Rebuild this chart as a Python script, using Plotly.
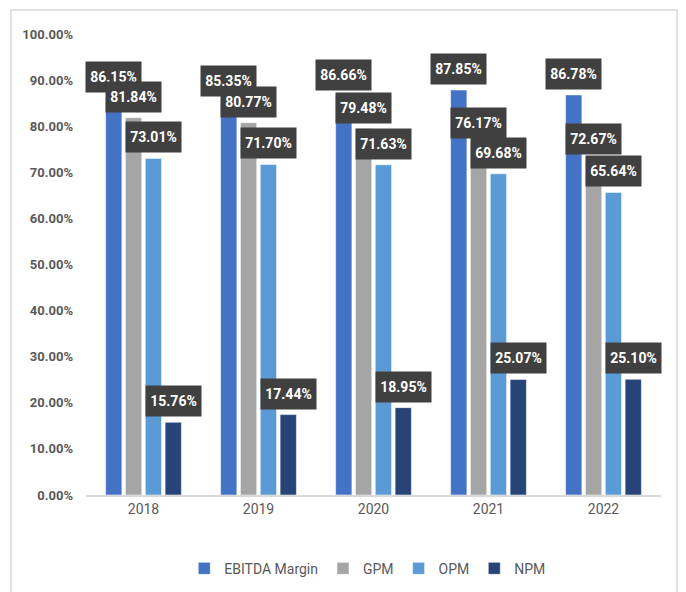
import plotly.graph_objects as go

# Profitability ratios by year
years = ["2018", "2019", "2020", "2021", "2022"]
series_names = ["EBITDA Margin", "GPM", "OPM", "NPM"]
ebitda_margin = [86.15, 85.35, 86.66, 87.85, 86.78]
gpm = [81.84, 80.77, 79.48, 76.17, 72.67]
opm = [73.01, 71.70, 71.63, 69.68, 65.64]
npm = [15.76, 17.44, 18.95, 25.07, 25.10]
y_ticks = [0, 10, 20, 30, 40, 50, 60, 70, 80, 90, 100]

colors = ["#4472C4", "#A5A5A5", "#5B9BD5", "#264478"]
all_values = [ebitda_margin, gpm, opm, npm]

FONT = "Roboto, sans-serif"

fig = go.Figure()
for name, vals, col in zip(series_names, all_values, colors):
    fig.add_trace(go.Bar(
        name=name,
        x=years,
        y=[v / 100 for v in vals],
        marker=dict(color=col, line=dict(color="rgba(255,255,255,0.5)", width=1)),
        hoverinfo="skip",
    ))

# Dark value boxes above every bar
n_series = len(series_names)
bargap = 0.31
slot = (1 - bargap) / n_series
annotations = []
for si, vals in enumerate(all_values):
    offset = -0.5 + bargap / 2 + slot * (si + 0.5)
    for ci, v in enumerate(vals):
        annotations.append(dict(
            x=ci + offset, y=v / 100, xref="x", yref="y",
            text=f"{v:.2f}%", showarrow=False,
            yshift=21, yanchor="middle", xanchor="center",
            width=53, height=28,
            bgcolor="#404040",
            font=dict(family=FONT, size=14, color="white", weight="bold"),
        ))

fig.update_layout(
    width=686, height=592,
    margin=dict(l=86, r=25, t=34, b=97, autoexpand=False),
    paper_bgcolor="white", plot_bgcolor="white",
    barmode="group", bargap=bargap, bargroupgap=0.18,
    annotations=annotations,
    showlegend=True,
    legend=dict(
        orientation="h", x=0.49, xanchor="center", y=-0.16, yanchor="middle",
        font=dict(family=FONT, size=14, color="#595959"),
        itemwidth=30, traceorder="normal",
    ),
    xaxis=dict(
        type="category", range=[-0.5, 4.5],
        showline=True, linecolor="#D9D9D9", linewidth=1.5,
        ticks="", showgrid=False,
        tickfont=dict(family=FONT, size=14, color="#595959"),
    ),
    yaxis=dict(
        range=[0, 1], tickvals=[t / 100 for t in y_ticks], tickformat=".2%",
        showgrid=False, zeroline=False, showline=False, ticks="",
        ticklabelstandoff=12,
        tickfont=dict(family=FONT, size=13, color="#595959", weight="bold"),
    ),
    shapes=[dict(
        type="rect", xref="paper", yref="paper",
        x0=(11 - 86) / 575, x1=(677 - 86) / 575,
        y0=(495 - 620) / 461, y1=(495 - 10) / 461,
        line=dict(color="#D9D9D9", width=1.5), fillcolor="rgba(0,0,0,0)",
        layer="below",
    )],
)

fig.write_html("out.html")
